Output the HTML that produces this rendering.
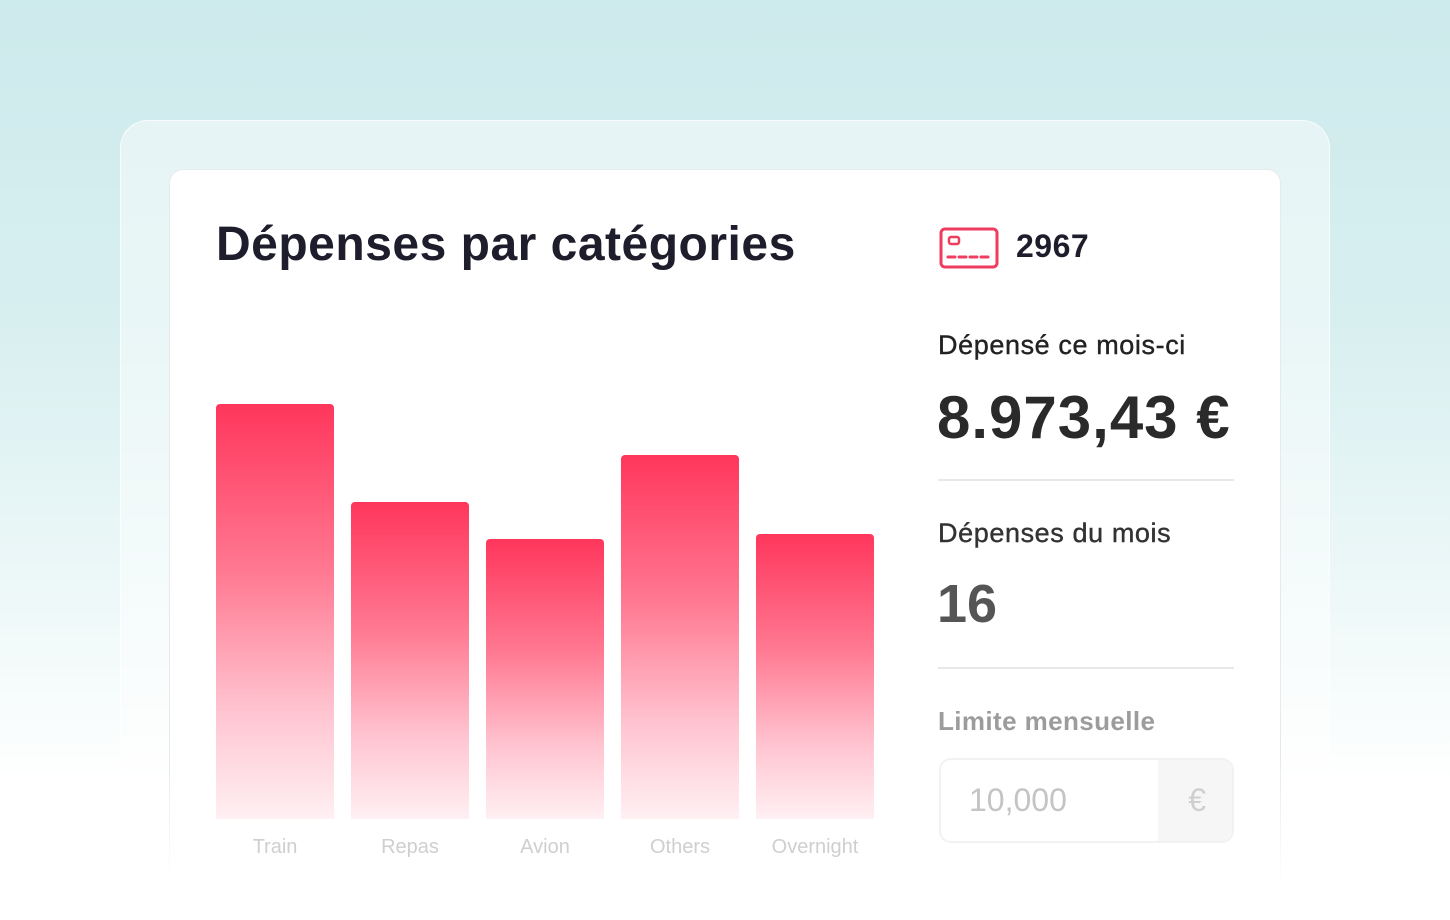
<!DOCTYPE html>
<html><head><meta charset="utf-8"><style>
*{margin:0;padding:0;box-sizing:border-box}
html,body{width:1450px;height:920px;overflow:hidden}
body{position:relative;font-family:"Liberation Sans",sans-serif;
background:linear-gradient(180deg,#cdeaec 0%,#d8eff0 35%,#eef8f8 65%,#ffffff 85%,#fff 100%)}
.outer{position:absolute;left:120px;top:120px;width:1210px;height:800px;border-radius:28px 28px 0 0;background:rgba(255,255,255,0.45);border:1px solid rgba(255,255,255,0.7);border-bottom:none}
.card{position:absolute;left:169px;top:169px;width:1112px;height:751px;border-radius:14px 14px 0 0;background:#fff;border:1px solid #e6eaeb;border-bottom:none}
.fade{position:absolute;left:0;top:760px;width:1450px;height:160px;background:linear-gradient(180deg,rgba(255,255,255,0),#fff 80%)}
.t{position:absolute;white-space:nowrap}
.bar{position:absolute;width:118px;bottom:101px;border-radius:4px 4px 0 0;background:linear-gradient(180deg,#ff365c 0%,#ff7891 40%,#ffc6d2 75%,#fff0f3 100%)}
.lab{position:absolute;top:836px;width:118px;text-align:center;font-size:20px;color:#cfcfcf}
.hr{position:absolute;left:938px;width:296px;height:2px;background:#e8e8e8}
</style></head><body>
<div class="outer"></div>
<div class="card"></div>
<div class="fade"></div>
<div class="t" style="left:216px;top:217px;font-size:48px;font-weight:bold;color:#1d1d2c;letter-spacing:0.5px">Dépenses par catégories</div>
<div class="bar" style="left:216px;top:404px"></div>
<div class="bar" style="left:351px;top:502px"></div>
<div class="bar" style="left:486px;top:539px"></div>
<div class="bar" style="left:621px;top:455px"></div>
<div class="bar" style="left:756px;top:534px"></div>
<div class="lab" style="left:216px">Train</div>
<div class="lab" style="left:351px">Repas</div>
<div class="lab" style="left:486px">Avion</div>
<div class="lab" style="left:621px">Others</div>
<div class="lab" style="left:756px">Overnight</div>
<svg style="position:absolute;left:939px;top:227px" width="60" height="42" viewBox="0 0 60 42">
<rect x="2" y="2" width="56" height="38" rx="4" fill="none" stroke="#ee3d5f" stroke-width="3"/>
<rect x="10" y="10" width="10" height="7" rx="2" fill="none" stroke="#ee3d5f" stroke-width="2.5"/>
<line x1="9" y1="30" x2="51" y2="30" stroke="#ee3d5f" stroke-width="3" stroke-dasharray="7 4" stroke-linecap="round"/>
</svg>
<div class="t" style="left:1016px;top:228px;font-size:32px;font-weight:bold;color:#1d1d2c;letter-spacing:0.5px">2967</div>
<div class="t" style="left:938px;top:330px;font-size:27px;color:#222;letter-spacing:0.6px;-webkit-text-stroke:0.4px #222">Dépensé ce mois-ci</div>
<div class="t" style="left:937px;top:383px;font-size:60px;font-weight:bold;color:#2a2a2a;letter-spacing:1px">8.973,43 €</div>
<div class="hr" style="top:479px"></div>
<div class="t" style="left:938px;top:518px;font-size:27px;color:#333;letter-spacing:0.6px;-webkit-text-stroke:0.4px #333">Dépenses du mois</div>
<div class="t" style="left:937px;top:573px;font-size:54px;font-weight:bold;color:#555">16</div>
<div class="hr" style="top:667px"></div>
<div class="t" style="left:938px;top:706px;font-size:26px;font-weight:bold;color:#9c9c9c;letter-spacing:0.4px">Limite mensuelle</div>
<div style="position:absolute;left:939px;top:758px;width:295px;height:85px;border:2px solid #f2f2f2;border-radius:12px;background:#fff;overflow:hidden">
<div style="position:absolute;right:0;top:0;width:74px;height:100%;background:#f6f6f7"></div>
<div class="t" style="left:28px;top:22px;font-size:32px;color:#c4c4c4">10,000</div>
<div class="t" style="right:26px;top:22px;font-size:32px;color:#cfcfcf">€</div>
</div>
</body></html>
